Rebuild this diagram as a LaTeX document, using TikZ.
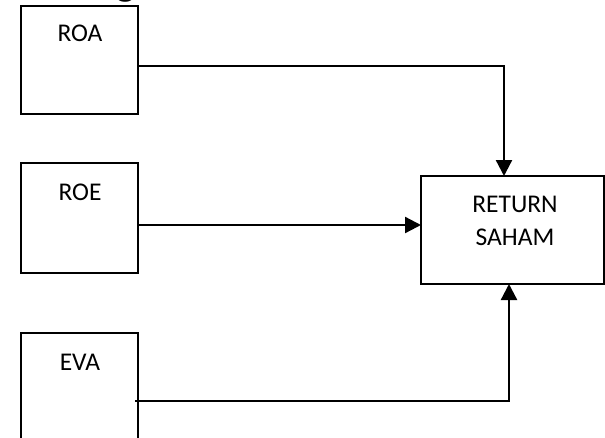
\documentclass[tikz,border=0pt]{standalone}
\usepackage{fontspec}
\setmainfont{Carlito}
\usetikzlibrary{arrows.meta}
\begin{document}
\begin{tikzpicture}[x=1pt,y=-1pt,
  box/.style={draw=black,line width=2pt,rectangle,inner sep=0pt},
  lbl/.style={font=\fontsize{25.5}{33}\selectfont,inner sep=0pt,align=center},
  conn/.style={draw=black,line width=2.3pt,-{Triangle[length=16pt,width=16pt]}}]
\useasboundingbox (0,0) rectangle (605,437);
\begin{scope}
\clip (0,0) rectangle (605,437);
\node[anchor=base west,inner sep=0pt,font=\fontsize{40}{48}\selectfont\bfseries] (head) at (20,-4.5) {Kerangka};
\node[box,minimum width=117pt,minimum height=108pt] (roa) at (79.5,60) {};
\node[box,minimum width=117pt,minimum height=110pt] (roe) at (79.5,218) {};
\node[box,minimum width=117pt,minimum height=120pt] (eva) at (79.5,393) {};
\node[box,minimum width=183pt,minimum height=108pt] (ret) at (512.5,230) {};
\node[lbl] (troa) at (80,33) {ROA};
\node[lbl] (troe) at (80,192) {ROE};
\node[lbl] (teva) at (80,362) {EVA};
\node[lbl] (tret) at (515,220.5) {RETURN\\SAHAM};
\coordinate (roaout) at (138,66);
\coordinate (roeout) at (138,225);
\coordinate (evaout) at (135,401);
\coordinate (retin1) at (504,176);
\coordinate (retin2) at (421,225);
\coordinate (retin3) at (509,284);
\draw[conn] (roaout) -| (retin1);
\draw[conn] (roeout) -- (retin2);
\draw[conn] (evaout) -| (retin3);
\end{scope}
\end{tikzpicture}
\end{document}
